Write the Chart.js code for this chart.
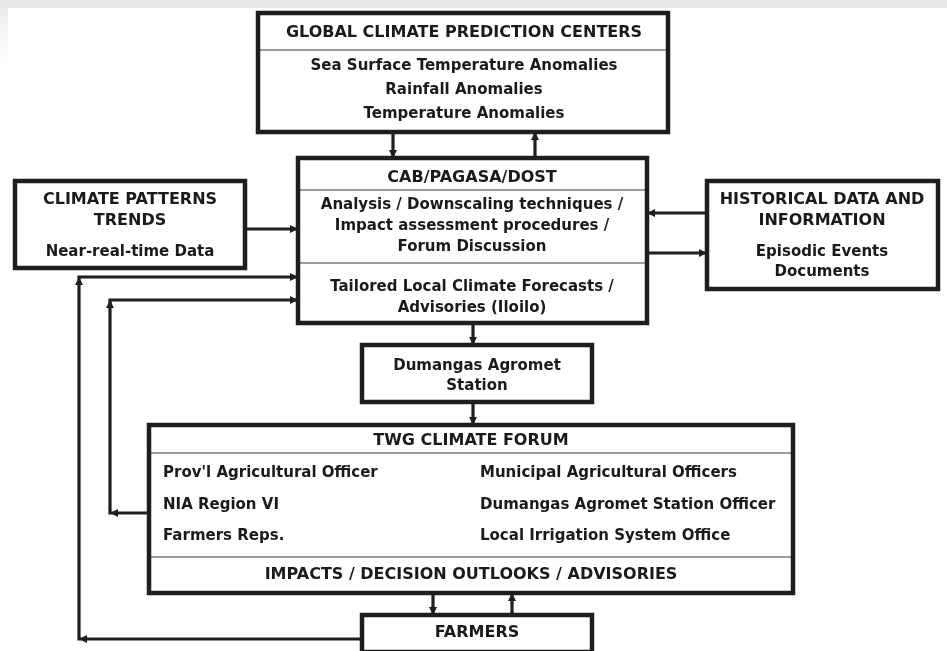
<!DOCTYPE html>
<html>
<head>
<meta charset="utf-8">
<script src="https://cdn.jsdelivr.net/npm/chart.js@4.4.1/dist/chart.umd.min.js"></script>
<style>
  html, body { margin: 0; padding: 0; background: #fff; }
  #wrap { width: 947px; height: 651px; position: relative; }
</style>
</head>
<body>
<div id="wrap"><canvas id="flow"></canvas></div>
<script>
// texts of the diagram
var globalTitle = ['GLOBAL CLIMATE PREDICTION CENTERS'];
var globalItems = ['Sea Surface Temperature Anomalies', 'Rainfall Anomalies', 'Temperature Anomalies'];
var cabTitle = ['CAB/PAGASA/DOST'];
var cabProcess = ['Analysis / Downscaling techniques /', 'Impact assessment procedures /', 'Forum Discussion'];
var cabOutput = ['Tailored Local Climate Forecasts /', 'Advisories (Iloilo)'];
var patternsTitle = ['CLIMATE PATTERNS', 'TRENDS'];
var patternsItems = ['Near-real-time Data'];
var historyTitle = ['HISTORICAL DATA AND', 'INFORMATION'];
var historyItems = ['Episodic Events', 'Documents'];
var stationText = ['Dumangas Agromet', 'Station'];
var forumTitle = ['TWG CLIMATE FORUM'];
var forumLeft = ["Prov'l Agricultural Officer", 'NIA Region VI', 'Farmers Reps.'];
var forumRight = ['Municipal Agricultural Officers', 'Dumangas Agromet Station Officer', 'Local Irrigation System Office'];
var forumOutput = ['IMPACTS / DECISION OUTLOOKS / ADVISORIES'];
var farmersText = ['FARMERS'];

// layout (diagram units = reference pixels)
var boxes = [
  { x0: 258, y0: 13, x1: 668, y1: 132, dividers: [50] },
  { x0: 298, y0: 158, x1: 647, y1: 323, dividers: [190, 263] },
  { x0: 15, y0: 181, x1: 245, y1: 268, dividers: [] },
  { x0: 707, y0: 181, x1: 938, y1: 289, dividers: [] },
  { x0: 362, y0: 345, x1: 592, y1: 402, dividers: [] },
  { x0: 149, y0: 425, x1: 793, y1: 593, dividers: [453, 557] },
  { x0: 362, y0: 615, x1: 592, y1: 652, dividers: [] }
];

var textBlocks = [
  { lines: globalTitle, x: 464, y: [33], align: 'center', caps: true },
  { lines: globalItems, x: 464, y: [66, 90, 114], align: 'center' },
  { lines: cabTitle, x: 472, y: [178], align: 'center', caps: true },
  { lines: cabProcess, x: 472, y: [205, 226, 247], align: 'center' },
  { lines: cabOutput, x: 472, y: [287, 308], align: 'center' },
  { lines: patternsTitle, x: 130, y: [200, 221], align: 'center', caps: true },
  { lines: patternsItems, x: 130, y: [252], align: 'center' },
  { lines: historyTitle, x: 822, y: [200, 221], align: 'center', caps: true },
  { lines: historyItems, x: 822, y: [252, 272], align: 'center' },
  { lines: stationText, x: 477, y: [366, 386], align: 'center' },
  { lines: forumTitle, x: 471, y: [441], align: 'center', caps: true },
  { lines: forumLeft, x: 163, y: [473, 505, 536], align: 'left' },
  { lines: forumRight, x: 480, y: [473, 505, 536], align: 'left' },
  { lines: forumOutput, x: 471, y: [575], align: 'center', caps: true },
  { lines: farmersText, x: 477, y: [633], align: 'center', caps: true }
];

// each path: list of points, arrowhead at the end of every segment
var paths = [
  [[393, 132], [393, 158]],
  [[535, 158], [535, 132]],
  [[245, 229], [298, 229]],
  [[707, 213], [647, 213]],
  [[647, 253], [707, 253]],
  [[473, 323], [473, 345]],
  [[473, 402], [473, 425]],
  [[433, 593], [433, 615]],
  [[512, 615], [512, 593]],
  [[362, 639], [79, 639], [79, 277], [298, 277]],
  [[149, 513], [110, 513], [110, 300], [298, 300]]
];

var ink = '#1e1e1e';

var flowPlugin = {
  id: 'flow',
  beforeDraw: function (chart) {
    var c = chart.ctx;
    c.save();
    c.fillStyle = '#ffffff';
    c.fillRect(0, 0, chart.width, chart.height);
    // faint scan border top/left
    c.fillStyle = '#e9e9e9';
    c.fillRect(0, 0, chart.width, 8);
    var g = c.createLinearGradient(0, 8, 0, 60);
    g.addColorStop(0, '#ececec');
    g.addColorStop(1, '#ffffff');
    c.fillStyle = g;
    c.fillRect(0, 8, 8, 52);
    c.restore();
  },
  afterDraw: function (chart) {
    var c = chart.ctx;
    var sx = chart.scales.x, sy = chart.scales.y;
    function X(v) { return sx.getPixelForValue(v); }
    function Y(v) { return sy.getPixelForValue(v); }
    c.save();

    // boxes
    boxes.forEach(function (b) {
      var x0 = X(b.x0), x1 = X(b.x1), y0 = Y(b.y0), y1 = Y(b.y1);
      c.fillStyle = '#fff';
      c.fillRect(x0, y0, x1 - x0, y1 - y0);
      c.strokeStyle = '#7a7a7a';
      c.lineWidth = 1.6;
      b.dividers.forEach(function (d) {
        c.beginPath();
        c.moveTo(x0, Y(d));
        c.lineTo(x1, Y(d));
        c.stroke();
      });
      c.strokeStyle = ink;
      c.lineWidth = 4.5;
      c.strokeRect(x0, y0, x1 - x0, y1 - y0);
    });

    // connectors
    c.strokeStyle = ink;
    c.fillStyle = ink;
    c.lineWidth = 3.2;
    c.lineCap = 'butt';
    c.lineJoin = 'miter';
    paths.forEach(function (p) {
      c.beginPath();
      c.moveTo(X(p[0][0]), Y(p[0][1]));
      for (var i = 1; i < p.length; i++) c.lineTo(X(p[i][0]), Y(p[i][1]));
      c.stroke();
      for (var j = 1; j < p.length; j++) {
        var ax = X(p[j - 1][0]), ay = Y(p[j - 1][1]);
        var bx = X(p[j][0]), by = Y(p[j][1]);
        var ang = Math.atan2(by - ay, bx - ax);
        var len = 8, half = 4;
        c.beginPath();
        c.moveTo(bx, by);
        c.lineTo(bx - len * Math.cos(ang) + half * Math.sin(ang), by - len * Math.sin(ang) - half * Math.cos(ang));
        c.lineTo(bx - len * Math.cos(ang) - half * Math.sin(ang), by - len * Math.sin(ang) + half * Math.cos(ang));
        c.closePath();
        c.fill();
      }
    });

    // texts
    c.fillStyle = '#1a1a1a';
    c.textBaseline = 'middle';
    textBlocks.forEach(function (t) {
      c.textAlign = t.align;
      c.font = 'bold ' + (t.caps ? 16 : 15) + 'px "DejaVu Sans", Verdana, sans-serif';
      t.lines.forEach(function (s, i) {
        c.fillText(s, X(t.x), Y(t.y[i]));
      });
    });
    c.restore();
  }
};

new Chart(document.getElementById('flow'), {
  type: 'scatter',
  data: { datasets: [{ data: [], showLine: false }] },
  options: {
    responsive: true,
    maintainAspectRatio: false,
    animation: false,
    layout: { padding: 0 },
    plugins: { legend: { display: false }, tooltip: { enabled: false } },
    scales: {
      x: { type: 'linear', min: 0, max: 947, display: false },
      y: { type: 'linear', min: 0, max: 651, reverse: true, display: false }
    }
  },
  plugins: [flowPlugin]
});
</script>
</body>
</html>
